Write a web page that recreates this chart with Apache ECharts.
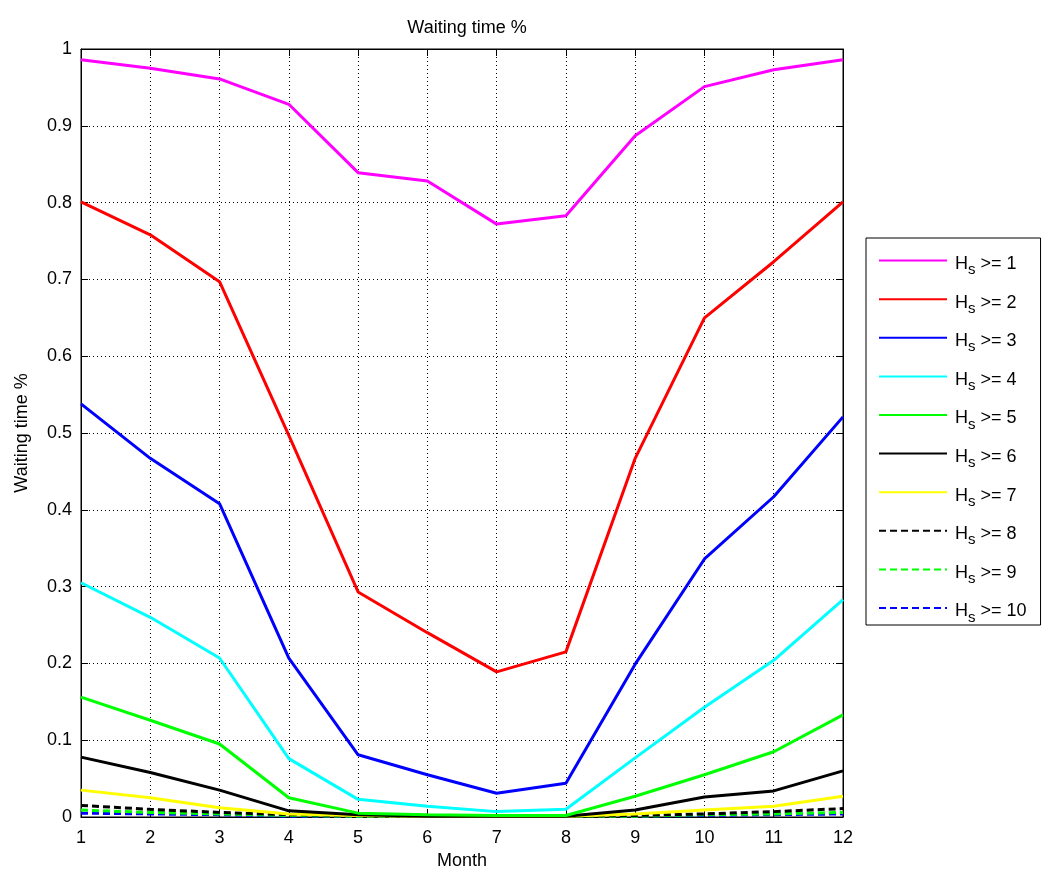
<!DOCTYPE html>
<html>
<head>
<meta charset="utf-8">
<script src="https://cdn.jsdelivr.net/npm/echarts@6/dist/echarts.min.js"></script>
<style>
  html, body { margin: 0; padding: 0; background: #fff; }
  #main { width: 1044px; height: 875px; }
</style>
</head>
<body>
<div id="main"></div>
<script>
// months on the x axis
var months = [1, 2, 3, 4, 5, 6, 7, 8, 9, 10, 11, 12];

// waiting time fraction for each Hs threshold
var hs1  = [0.986, 0.975, 0.961, 0.928, 0.839, 0.828, 0.772, 0.783, 0.887, 0.951, 0.973, 0.986];
var hs2  = [0.801, 0.758, 0.697, 0.497, 0.293, 0.240, 0.189, 0.215, 0.467, 0.650, 0.723, 0.801];
var hs3  = [0.538, 0.467, 0.408, 0.207, 0.081, 0.055, 0.031, 0.044, 0.199, 0.336, 0.417, 0.521];
var hs4  = [0.305, 0.260, 0.207, 0.076, 0.023, 0.014, 0.007, 0.010, 0.077, 0.143, 0.204, 0.283];
var hs5  = [0.156, 0.126, 0.095, 0.025, 0.005, 0.003, 0.002, 0.002, 0.027, 0.055, 0.085, 0.133];
var hs6  = [0.078, 0.058, 0.035, 0.008, 0.003, 0.001, 0.001, 0.001, 0.009, 0.026, 0.034, 0.060];
var hs7  = [0.035, 0.025, 0.012, 0.004, 0.002, 0.001, 0.001, 0.001, 0.004, 0.009, 0.014, 0.027];
var hs8  = [0.015, 0.010, 0.006, 0.003, 0.002, 0.001, 0.001, 0.001, 0.002, 0.004, 0.007, 0.011];
var hs9  = [0.009, 0.006, 0.004, 0.002, 0.001, 0.001, 0.001, 0.001, 0.001, 0.003, 0.004, 0.006];
var hs10 = [0.005, 0.004, 0.003, 0.001, 0.001, 0.001, 0.001, 0.001, 0.001, 0.002, 0.003, 0.004];

var seriesNames = ['Hs1', 'Hs2', 'Hs3', 'Hs4', 'Hs5', 'Hs6', 'Hs7', 'Hs8', 'Hs9', 'Hs10'];
var seriesData = [hs1, hs2, hs3, hs4, hs5, hs6, hs7, hs8, hs9, hs10];
var seriesColors = ['#ff00ff', '#ff0000', '#0000ff', '#00ffff', '#00ff00', '#000000', '#ffff00', '#000000', '#00ff00', '#0000ff'];
var seriesDashed = [false, false, false, false, false, false, false, true, true, true];

var font = 'Liberation Sans, Arial, sans-serif';

var chart = echarts.init(document.getElementById('main'));

var series = seriesNames.map(function (name, i) {
  return {
    name: name,
    type: 'line',
    symbol: 'none',
    data: months.map(function (m, j) { return [m, seriesData[i][j]]; }),
    lineStyle: { color: seriesColors[i], width: 3, type: seriesDashed[i] ? [7, 4] : 'solid' },
    itemStyle: { color: seriesColors[i] },
    z: 10 - i,
    animation: false
  };
});

var tickFont = { color: '#000', fontSize: 18, fontFamily: font };

var option = {
  animation: false,
  backgroundColor: '#fff',
  title: {
    text: 'Waiting time %',
    left: 462, top: 14, textAlign: 'center',
    textStyle: { color: '#000', fontSize: 18, fontWeight: 'normal', fontFamily: font }
  },
  grid: {
    left: 81, top: 49, width: 762, height: 768,
    show: true, borderColor: '#000', borderWidth: 1
  },
  legend: {
    orient: 'vertical',
    left: 866, top: 238,
    width: 160,
    padding: [17, 14, 0, 12],
    backgroundColor: '#fff',
    borderColor: '#000', borderWidth: 1,
    itemWidth: 68, itemHeight: 14, itemGap: 16,
    itemStyle: { opacity: 0 },
    data: seriesNames,
    formatter: function (n) {
      return 'H{s|s} >= ' + n.slice(2);
    },
    textStyle: {
      color: '#000', fontSize: 18, fontFamily: font, height: 20, padding: [0, 0, 0, 3],
      rich: {
        s: { fontSize: 15, fontFamily: font, color: '#000', verticalAlign: 'bottom', padding: [12, 0, 0, 0] }
      }
    }
  },
  xAxis: [{
    type: 'value', min: 1, max: 12, interval: 1,
    name: 'Month', nameLocation: 'middle', nameGap: 34,
    nameTextStyle: tickFont,
    axisLine: { show: true, onZero: false, lineStyle: { color: '#000' } },
    axisTick: { inside: true, length: 7, lineStyle: { color: '#000' } },
    axisLabel: Object.assign({ margin: 12 }, tickFont),
    splitLine: { show: true, lineStyle: { color: '#000', type: [1, 3], width: 1 } }
  }, {
    type: 'value', min: 1, max: 12, interval: 1, position: 'top',
    axisLine: { show: true, onZero: false, lineStyle: { color: '#000' } },
    axisTick: { inside: true, length: 7, lineStyle: { color: '#000' } },
    axisLabel: { show: false },
    splitLine: { show: false }
  }],
  yAxis: [{
    type: 'value', min: 0, max: 1, interval: 0.1,
    name: 'Waiting time %', nameLocation: 'middle', nameGap: 50, nameRotate: 90,
    nameTextStyle: tickFont,
    axisLine: { show: true, onZero: false, lineStyle: { color: '#000' } },
    axisTick: { inside: true, length: 7, lineStyle: { color: '#000' } },
    axisLabel: Object.assign({ margin: 9 }, tickFont),
    splitLine: { show: true, lineStyle: { color: '#000', type: [1, 3], width: 1 } }
  }, {
    type: 'value', min: 0, max: 1, interval: 0.1, position: 'right',
    axisLine: { show: true, onZero: false, lineStyle: { color: '#000' } },
    axisTick: { inside: true, length: 7, lineStyle: { color: '#000' } },
    axisLabel: { show: false },
    splitLine: { show: false }
  }],
  series: series
};

chart.setOption(option);
</script>
</body>
</html>
